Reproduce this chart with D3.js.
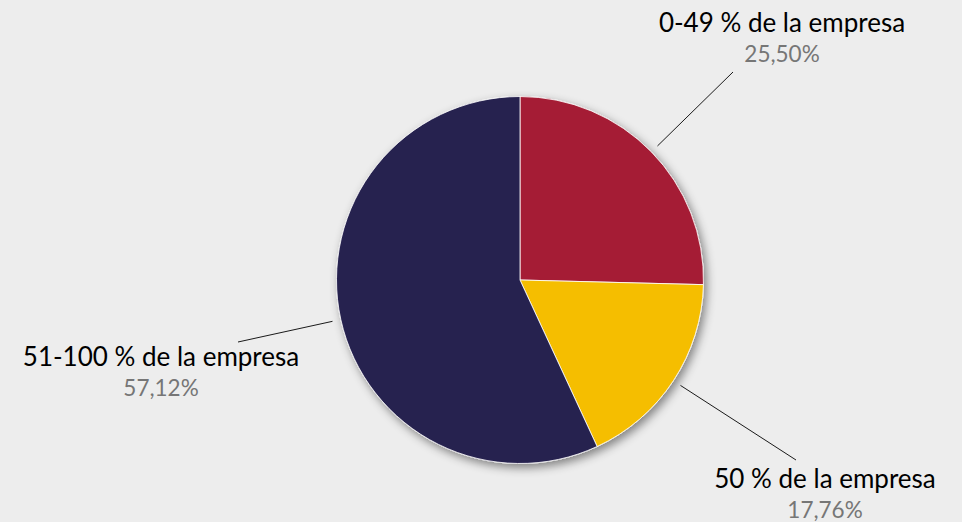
<!DOCTYPE html>
<html>
<head>
<meta charset="utf-8">
<script src="https://cdn.jsdelivr.net/npm/d3@7"></script>
<style>
  html, body { margin: 0; padding: 0; background: #ededed; }
  svg { display: block; }
</style>
</head>
<body>
<svg id="chart" width="962" height="522"></svg>
<script>
// Ownership share of the company
const categories = ["0-49 % de la empresa", "50 % de la empresa", "51-100 % de la empresa"];
const values = [25.50, 17.76, 57.12];
const valueLabels = ["25,50%", "17,76%", "57,12%"];
const colors = ["#a51f36", "#f5be00", "#282350"];

// Layout
const W = 962, H = 522;
const cx = 520, cy = 280, R = 183.5;
const leaderR = 192;
// label anchor (text centre x, name baseline y) and leader end point per slice
const labelLayout = [
  { x: 782, y: 32, lx: 733, ly: 72 },
  { x: 825, y: 488, lx: 796, ly: 460 },
  { x: 161, y: 366, lx: 238, ly: 342 }
];
const valueOffset = 29.5;
const fontFamily = "Lato, 'Open Sans', sans-serif";

const svg = d3.select("#chart");

const defs = svg.append("defs");
const f = defs.append("filter").attr("id", "shadow")
  .attr("x", "-20%").attr("y", "-20%").attr("width", "140%").attr("height", "140%");
f.append("feDropShadow")
  .attr("dx", 3).attr("dy", 4).attr("stdDeviation", 5)
  .attr("flood-color", "#000").attr("flood-opacity", 0.45);

const pie = d3.pie().sort(null).value(d => d)(values);
const arc = d3.arc().innerRadius(0).outerRadius(R);

const g = svg.append("g").attr("transform", `translate(${cx},${cy})`);

g.append("g").attr("filter", "url(#shadow)")
  .selectAll("path")
  .data(pie)
  .join("path")
  .attr("d", arc)
  .attr("fill", (d, i) => colors[i])
  .attr("stroke", "#ffffff")
  .attr("stroke-width", 0.8)
  .attr("stroke-linejoin", "round");

// leader lines
pie.forEach((d, i) => {
  const a = (d.startAngle + d.endAngle) / 2;
  const sx = cx + leaderR * Math.sin(a);
  const sy = cy - leaderR * Math.cos(a);
  const L = labelLayout[i];
  svg.append("line")
    .attr("x1", sx).attr("y1", sy)
    .attr("x2", L.lx).attr("y2", L.ly)
    .attr("stroke", "#1a1a1a").attr("stroke-width", 1);
});

// labels
categories.forEach((c, i) => {
  const L = labelLayout[i];
  const t = svg.append("g");
  t.append("text")
    .attr("x", L.x).attr("y", L.y)
    .attr("text-anchor", "middle")
    .attr("font-family", fontFamily)
    .attr("font-size", 26)
    .attr("fill", "#000000")
    .text(c);
  t.append("text")
    .attr("x", L.x).attr("y", L.y + valueOffset)
    .attr("text-anchor", "middle")
    .attr("font-family", fontFamily)
    .attr("font-size", 22.5)
    .attr("fill", "#767676")
    .text(valueLabels[i]);
});
</script>
</body>
</html>
